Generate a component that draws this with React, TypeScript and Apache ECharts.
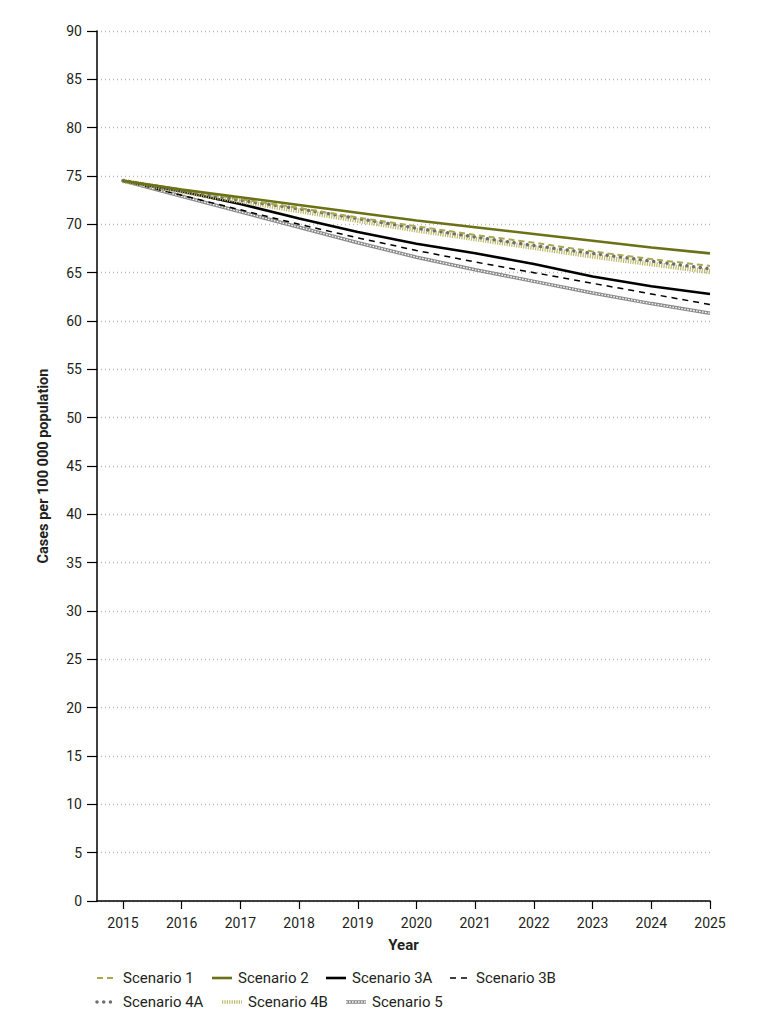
import React, { useEffect, useRef } from "react";
import * as echarts from "echarts";

const years = [2015, 2016, 2017, 2018, 2019, 2020, 2021, 2022, 2023, 2024, 2025];
const scenario1 = [74.5, 73.6, 72.6, 71.7, 70.7, 69.8, 68.9, 68.1, 67.2, 66.4, 65.7];
const scenario2 = [74.5, 73.6, 72.8, 72.0, 71.2, 70.4, 69.7, 69.0, 68.3, 67.6, 67.0];
const scenario3A = [74.5, 73.4, 72.1, 70.6, 69.2, 68.0, 67.0, 65.9, 64.6, 63.6, 62.8];
const scenario3B = [74.5, 73.0, 71.5, 70.0, 68.6, 67.3, 66.1, 65.0, 63.9, 62.8, 61.7];
const scenario4A = [74.5, 73.5, 72.5, 71.6, 70.6, 69.6, 68.7, 67.8, 67.0, 66.2, 65.4];
const scenario4B = [74.5, 73.4, 72.4, 71.4, 70.4, 69.4, 68.5, 67.6, 66.7, 65.9, 65.1];
const scenario5 = [74.5, 72.9, 71.3, 69.7, 68.1, 66.6, 65.3, 64.1, 62.9, 61.8, 60.8];

const legendRow1 = ["Scenario 1", "Scenario 2", "Scenario 3A", "Scenario 3B"];
const legendRow2 = ["Scenario 4A", "Scenario 4B", "Scenario 5"];

const FONT = "Roboto, 'Liberation Sans', sans-serif";
const TEXT = "#231f20";

// line styles per scenario (used by series and the hand-drawn legend)
const styles: Record<string, any> = {
  "Scenario 1": { color: "#aaa84c", width: 2, dash: [6, 4] },
  "Scenario 2": { color: "#6b7116", width: 2.6, dash: null },
  "Scenario 3A": { color: "#000000", width: 2.6, dash: null },
  "Scenario 3B": { color: "#000000", width: 1.5, dash: [6, 5] },
  "Scenario 4A": { color: "#6d6e71", width: 3.5, dash: [0.01, 6.7], cap: "round" },
  "Scenario 4B": { color: "#bdb96a", width: 5, dash: [1.2, 1.2] },
  "Scenario 5": { color: "#8a8a8a", width: 3.5, dash: null, overlay: true },
};

const pts = (vals: number[]) => years.map((y, i) => [y, vals[i]]);

export default function App() {
  const ref = useRef<HTMLDivElement>(null);
  useEffect(() => {
    const chart = echarts.init(ref.current!, null, { renderer: "svg" });
    const mk = (name: string, vals: number[], z: number) => {
      const s = styles[name];
      return {
        type: "line",
        name,
        symbol: "none",
        silent: true,
        data: pts(vals),
        itemStyle: { color: s.color },
        lineStyle: { color: s.color, width: s.width, type: s.dash || "solid", cap: s.cap || "butt" },
        z,
      };
    };

    const legendGraphics: any[] = [];
    const addRow = (names: string[], starts: number[], cy: number) => {
      names.forEach((name, i) => {
        const s = styles[name];
        const x0 = starts[i];
        legendGraphics.push({
          type: "line",
          shape: { x1: x0, y1: cy, x2: x0 + 20, y2: cy },
          style: {
            stroke: s.color,
            lineWidth: Math.min(s.width, 3.5),
            lineDash: s.dash || undefined,
            lineCap: s.cap || "butt",
          },
        });
        if (s.overlay) {
          legendGraphics.push({
            type: "line",
            shape: { x1: x0, y1: cy, x2: x0 + 20, y2: cy },
            style: { stroke: "#ffffff", lineWidth: 1.3, lineDash: [1.6, 1.4] },
          });
        }
        legendGraphics.push({
          type: "text",
          x: x0 + 26,
          y: cy,
          style: {
            text: name,
            fontFamily: FONT,
            fontSize: 15,
            fill: TEXT,
            verticalAlign: "middle",
            align: "left",
          },
        });
      });
    };
    addRow(legendRow1, [97, 212, 326, 450], 978);
    addRow(legendRow2, [97, 222, 346], 1002);

    chart.setOption({
      animation: false,
      backgroundColor: "#ffffff",
      grid: { left: 97, right: 61, top: 31, bottom: 133, containLabel: false },
      graphic: legendGraphics,
      xAxis: {
        type: "value",
        min: 2014.557,
        max: 2025,
        name: "Year",
        nameLocation: "middle",
        nameGap: 36,
        nameTextStyle: { fontFamily: FONT, fontSize: 15, fontWeight: "bold", color: TEXT },
        axisLine: { lineStyle: { color: "#000", width: 1.5 } },
        axisTick: { show: true, length: 8, lineStyle: { color: "#000", width: 1.2 }, customValues: years },
        axisLabel: {
          customValues: years,
          fontFamily: FONT,
          fontSize: 14,
          color: TEXT,
          margin: 15,
          formatter: (v: number) => String(Math.round(v)),
        },
        splitLine: { show: false },
      },
      yAxis: {
        type: "value",
        min: 0,
        max: 90,
        interval: 5,
        name: "Cases per 100 000 population",
        nameLocation: "middle",
        nameGap: 46,
        nameTextStyle: { fontFamily: FONT, fontSize: 14.5, fontWeight: "bold", color: TEXT },
        axisLine: { show: true, lineStyle: { color: "#000", width: 1.5 } },
        axisTick: { show: true, length: 10, lineStyle: { color: "#000", width: 1.2 } },
        axisLabel: { fontFamily: FONT, fontSize: 14, color: TEXT, margin: 15 },
        splitLine: { show: true, lineStyle: { color: "#b8b8b8", width: 1.3, type: [1, 3] } },
      },
      series: [
        mk("Scenario 5", scenario5, 2),
        {
          type: "line",
          name: "Scenario 5 overlay",
          symbol: "none",
          silent: true,
          data: pts(scenario5),
          itemStyle: { color: "#ffffff" },
          lineStyle: { color: "#ffffff", width: 1.3, type: [1.6, 1.4] },
          z: 3,
        },
        mk("Scenario 3B", scenario3B, 4),
        mk("Scenario 3A", scenario3A, 4),
        mk("Scenario 4B", scenario4B, 5),
        mk("Scenario 4A", scenario4A, 6),
        mk("Scenario 1", scenario1, 6),
        mk("Scenario 2", scenario2, 7),
      ],
    });
    return () => chart.dispose();
  }, []);
  return <div ref={ref} style={{ position: "absolute", left: 0, top: 0, width: 771, height: 1034 }} />;
}
